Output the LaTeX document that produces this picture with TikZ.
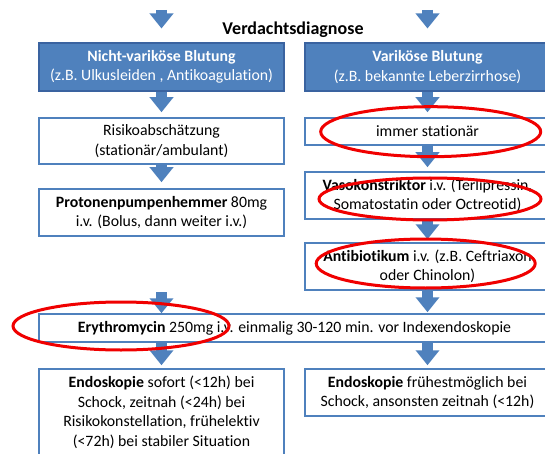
\documentclass[tikz,border=0pt]{standalone}
\usepackage{fontspec}
\setmainfont{Carlito}[Ligatures=NoCommon]
\usetikzlibrary{arrows.meta}
\definecolor{boxblue}{HTML}{4F81BD}
\definecolor{boxedge}{HTML}{3A63A0}
\definecolor{ringred}{HTML}{F00000}

\begin{document}
\begin{tikzpicture}[x=1pt, y=-1pt,
  every node/.style={font=\fontsize{15.8}{19.5}\selectfont, align=center, inner sep=0pt},
  headbox/.style={draw=boxedge, fill=boxblue, text=white, line width=1.2pt, minimum width=245pt, minimum height=48pt},
  stepbox/.style={draw=boxblue, fill=white, line width=1.5pt, minimum width=245pt},
  blk/.style={boxblue, line width=11.5pt, -{Triangle[width=23pt,length=15pt]}},
  ring/.style={ringred, line width=3pt}]
  \useasboundingbox (0,0) rectangle (545,454);

  \coordinate (inL) at (161.5,10);
  \coordinate (inR) at (427.5,10);
  \coordinate (endL) at (161.5,28.5);
  \coordinate (endR) at (427.5,28.5);
  \node[font=\fontsize{18}{20}\selectfont\bfseries] (vd) at (293,30) {Verdachtsdiagnose};

  \node[headbox] (nvb) at (161.5,67) {\textbf{Nicht-variköse Blutung}\\(z.B. Ulkusleiden , Antikoagulation)};
  \node[headbox] (vb) at (427.5,67) {\textbf{Variköse Blutung}\\(z.B. bekannte Leberzirrhose)};

  \node[stepbox, minimum height=46pt] (risk) at (161.5,141) {Risikoabschätzung\\(stationär/ambulant)};
  \node[stepbox, minimum height=47pt] (ppi) at (161.5,212.5) {\textbf{Protonenpumpenhemmer} 80mg\\i.v. (Bolus, dann weiter i.v.)};
  \coordinate (ppiout) at (161.5,292);

  \node[stepbox, minimum height=27pt] (stat) at (427.5,131.5) {immer stationär};
  \node[stepbox, minimum height=47pt] (vaso) at (427.5,195.5) {\textbf{Vasokonstriktor} i.v. (Terlipressin,\\Somatostatin oder Octreotid)};
  \node[stepbox, minimum height=47pt] (abx) at (427.5,266.5) {\textbf{Antibiotikum} i.v. (z.B. Ceftriaxon\\oder Chinolon)};

  \node[stepbox, minimum width=511pt, minimum height=28pt] (ery) at (294.5,328) {\textbf{Erythromycin} 250mg i.v. einmalig 30-120 min. vor Indexendoskopie};

  \node[stepbox, minimum height=87pt] (endoL) at (161.5,412.5) {\textbf{Endoskopie} sofort (<12h) bei\\Schock, zeitnah (<24h) bei\\Risikokonstellation, frühelektiv\\(<72h) bei stabiler Situation};
  \node[stepbox, minimum height=47pt] (endoR) at (427.5,392.5) {\textbf{Endoskopie} frühestmöglich bei\\Schock, ansonsten zeitnah (<12h)};

  \draw[blk] (inL) -- (endL);
  \draw[blk] (inR) -- (endR);
  \draw[blk, shorten >=5pt] (nvb) -- (risk);
  \draw[blk, shorten >=5pt] (vb) -- (stat);
  \draw[blk, shorten >=6pt] (risk) -- (ppi);
  \draw[blk, shorten >=4pt] (stat) -- (vaso);
  \draw[blk, shorten >=3pt] (vaso) -- (abx);
  \draw[blk] (ppiout) -- (ppiout |- ery.north);
  \draw[blk, shorten >=1pt] (abx) -- (abx |- ery.north);
  \draw[blk, shorten >=3pt] (ery.south -| endoL) -- (endoL);
  \draw[blk, shorten >=3pt] (ery.south -| endoR) -- (endoR);

  \draw[ring] (430.7,131.7) ellipse [x radius=110, y radius=25];
  \draw[ring] (430,199) ellipse [x radius=111, y radius=21];
  \draw[ring] (425.7,263.5) ellipse [x radius=109.5, y radius=24.5];
  \draw[ring] (121,326) ellipse [x radius=108, y radius=24];
\end{tikzpicture}
\end{document}
